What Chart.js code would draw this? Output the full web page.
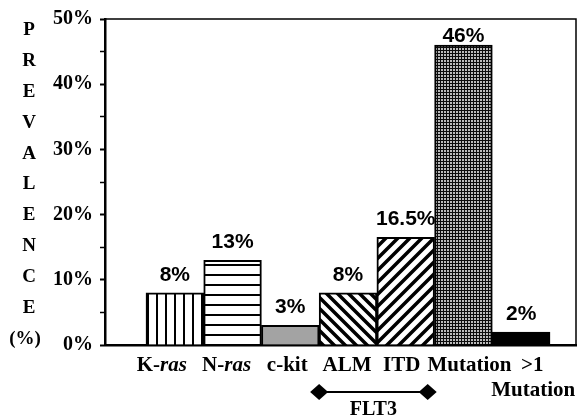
<!DOCTYPE html>
<html>
<head>
<meta charset="utf-8">
<script src="https://cdn.jsdelivr.net/npm/chart.js@4/dist/chart.umd.min.js"></script>
<style>
	body { margin: 0; background: #fff; }
	canvas { display: block; }
</style>
</head>
<body>
<canvas id="prevChart" width="581" height="417"></canvas>
<script>
/****************************
 ****	data
 ****************************/

const	categories	= [ 'K-ras', 'N-ras', 'c-kit', 'ALM', 'ITD', 'Mutation', '>1' ];
const	secondLine	= [ '', '', '', '', '', '', 'Mutation' ];
const	prevalence	= [ 8, 13, 3, 8, 16.5, 46, 2 ];
const	valueLabels	= [ '8%', '13%', '3%', '8%', '16.5%', '46%', '2%' ];
const	fillKinds	= [ 'vertical', 'horizontal', 'grey', 'backslash', 'slash', 'dots', 'black' ];
const	yTicks		= [ 0, 10, 20, 30, 40, 50 ];
const	yTitle		= [ 'P', 'R', 'E', 'V', 'A', 'L', 'E', 'N', 'C', 'E', '(%)' ];
const	groupName	= 'FLT3';
const	groupFrom	= 3;	// ALM
const	groupTo		= 4;	// ITD

const	SERIF	= '"Liberation Serif", "Times New Roman", serif';
const	SANS	= '"Liberation Sans", Arial, sans-serif';

//	the axis labels sit on one typed line in the original, not exactly under the bars
const	LABEL_NUDGE	= [ -13, -6, -3, -1, -4, 6, 11 ];

/****************************
 ****	fill patterns
 ****************************/

function makePattern( kind ) {
	let	c	= document.createElement( 'canvas' );
	let	g	= c.getContext( '2d' );

	if ( kind == 'grey' )
		return '#a3a3a3';
	if ( kind == 'black' )
		return '#000';

	if ( kind == 'vertical' ) {
		c.width = 9; c.height = 4;
		g.fillStyle = '#fff'; g.fillRect( 0, 0, 9, 4 );
		g.fillStyle = '#000'; g.fillRect( 3, 0, 2, 4 );
	}
	else if ( kind == 'horizontal' ) {
		c.width = 4; c.height = 10;
		g.fillStyle = '#fff'; g.fillRect( 0, 0, 4, 10 );
		g.fillStyle = '#000'; g.fillRect( 0, 4, 4, 2 );
	}
	else if ( kind == 'backslash' || kind == 'slash' ) {
		let	s	= ( kind == 'slash' ) ? 12 : 11;
		c.width = s; c.height = s;
		g.fillStyle = '#fff'; g.fillRect( 0, 0, s, s );
		g.strokeStyle = '#000';
		g.lineWidth = 3.5;
		g.beginPath();
		for ( let k = -1; k <= 1; k++ ) {
			if ( kind == 'backslash' ) {		// y = x + k*s
				g.moveTo( -s, -s + k * s );
				g.lineTo( 2 * s, 2 * s + k * s );
			}
			else {					// x + y = s + k*s
				g.moveTo( -s, 2 * s + k * s );
				g.lineTo( 2 * s, -s + k * s );
			}
		}
		g.stroke();
	}
	else if ( kind == 'dots' ) {
		c.width = 3; c.height = 3;
		g.fillStyle = '#0c0c0c'; g.fillRect( 0, 0, 3, 3 );
		g.fillStyle = '#bbb'; g.fillRect( 0, 0, 2, 2 );
	}
	return g.createPattern( c, 'repeat' );
}

/****************************
 ****	drawing plugins
 ****************************/

function labelParts( str ) {
	let	m	= str.match( /^(.*-)(ras)$/ );
	if ( m )
		return [ [ m[ 1 ], false ], [ m[ 2 ], true ] ];
	return [ [ str, false ] ];
}

function drawParts( ctx, parts, cx, cy, size ) {
	let	total	= 0;
	parts.forEach( p => {
		ctx.font = ( p[ 1 ] ? 'italic bold ' : 'bold ' ) + size + 'px ' + SERIF;
		total += ctx.measureText( p[ 0 ] ).width;
	});
	let	x	= cx - total / 2;
	ctx.textAlign = 'left';
	parts.forEach( p => {
		ctx.font = ( p[ 1 ] ? 'italic bold ' : 'bold ' ) + size + 'px ' + SERIF;
		ctx.fillText( p[ 0 ], x, cy );
		x += ctx.measureText( p[ 0 ] ).width;
	});
}

const	decorPlugin	= {
	id: 'decor',

	afterDraw: function ( chart ) {
		let	ctx	= chart.ctx;
		let	area	= chart.chartArea;
		let	xs	= chart.scales.x;
		let	meta	= chart.getDatasetMeta( 0 );

		ctx.save();

		/* top and right frame */
		ctx.strokeStyle = '#000';
		ctx.lineWidth = 1.5;
		ctx.beginPath();
		ctx.moveTo( area.left, area.top );
		ctx.lineTo( area.right, area.top );
		ctx.lineTo( area.right, area.bottom );
		ctx.stroke();

		/* values above the bars */
		ctx.fillStyle = '#000';
		ctx.font = 'bold 21px ' + SANS;
		ctx.textAlign = 'center';
		ctx.textBaseline = 'alphabetic';
		meta.data.forEach( ( bar, i ) => {
			let	y	= Math.max( bar.y - 12, area.top + 23 );
			ctx.fillText( valueLabels[ i ], bar.x, y );
		});

		/* category labels */
		ctx.textBaseline = 'middle';
		categories.forEach( ( c, i ) => {
			let	cx	= xs.getPixelForValue( i ) + LABEL_NUDGE[ i ];
			drawParts( ctx, labelParts( c ), cx, area.bottom + 21, 21 );
			if ( secondLine[ i ] )
				drawParts( ctx, labelParts( secondLine[ i ] ), cx + 1, area.bottom + 46, 21 );
		});

		/* FLT3 bracket */
		let	x1	= xs.getPixelForValue( groupFrom - 0.5 );
		let	x2	= xs.getPixelForValue( groupTo + 0.38 );
		let	yb	= area.bottom + 47;
		ctx.lineWidth = 2;
		ctx.beginPath();
		ctx.moveTo( x1, yb );
		ctx.lineTo( x2, yb );
		ctx.stroke();
		[ x1, x2 ].forEach( x => {
			ctx.beginPath();
			ctx.moveTo( x - 9, yb );
			ctx.lineTo( x, yb - 8 );
			ctx.lineTo( x + 9, yb );
			ctx.lineTo( x, yb + 8 );
			ctx.closePath();
			ctx.fill();
		});
		drawParts( ctx, [ [ groupName, false ] ], ( x1 + x2 ) / 2, area.bottom + 65, 20 );

		/* stacked y title */
		ctx.font = 'bold 19px ' + SERIF;
		ctx.textAlign = 'center';
		yTitle.forEach( ( t, i ) => {
			ctx.fillText( t, t.length > 1 ? 25 : 29, 30 + i * 30.9 );
		});

		ctx.restore();
	}
};

/****************************
 ****	chart
 ****************************/

window.addEventListener( 'load', function () {
	let	ctx	= document.getElementById( 'prevChart' );

	new Chart( ctx, {
		type: 'bar',
		data: {
			datasets: [
				{
					data: categories.map( ( c, i ) => ( { x: i, y: prevalence[ i ] } ) ),
					backgroundColor: fillKinds.map( makePattern ),
					borderColor: '#000',
					borderWidth: 2,
					barThickness: 'flex',
					barPercentage: 1,
					categoryPercentage: 1,
				},
			],
		},
		options: {
			responsive: false,
			animation: false,
			devicePixelRatio: 1,
			layout: {
				padding: { left: 0, right: 5, top: 13, bottom: 0 },
			},
			plugins: {
				legend: { display: false },
				tooltip: { enabled: false },
			},
			scales: {
				x: {
					type: 'linear',
					offset: false,
					min: -1.21,
					max: 6.95,
					ticks: { display: false },
					grid: { display: true, drawOnChartArea: false, drawTicks: false, offset: false },
					border: { color: '#000', width: 2.5 },
					afterFit: s => { s.height = 72; },
				},
				y: {
					min: 0,
					max: 50,
					ticks: {
						stepSize: 5,
						padding: 7,
						color: '#000',
						font: { family: SERIF, size: 20, weight: 'bold' },
						callback: v => yTicks.includes( v ) ? v + '%' : '',
					},
					grid: {
						drawOnChartArea: false,
						tickLength: 5,
						tickColor: '#000',
						tickWidth: c => ( c.tick && yTicks.includes( c.tick.value ) ) ? 2 : 1.5,
					},
					border: { color: '#000', width: 2.5 },
					afterFit: s => { s.width = 105; },
				},
			},
		},
		plugins: [ decorPlugin ],
	});
});
</script>
</body>
</html>
